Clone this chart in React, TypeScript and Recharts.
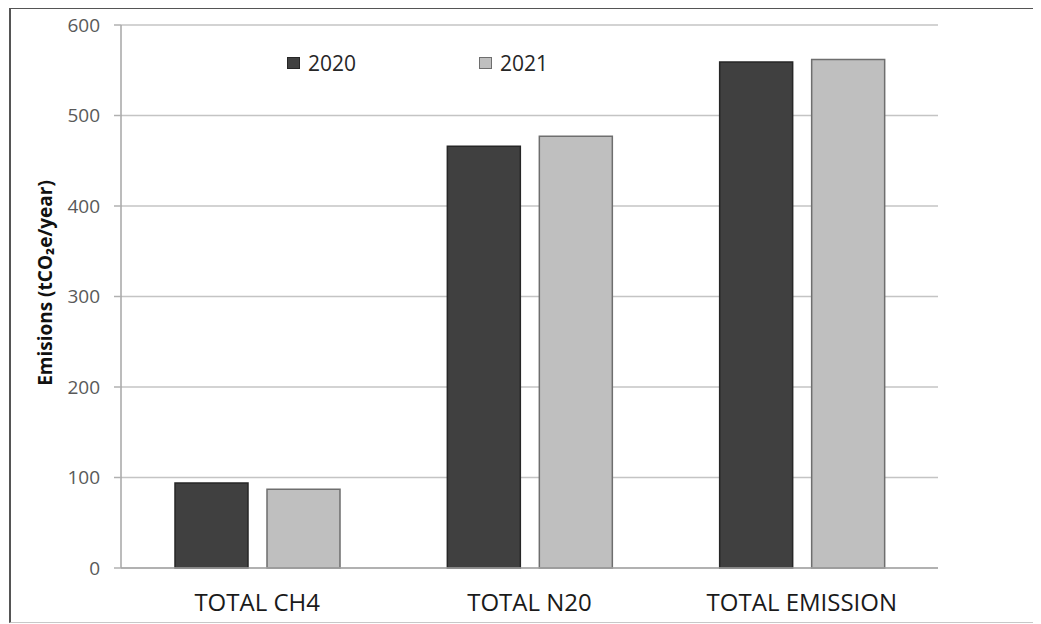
import { BarChart, Bar, XAxis, YAxis, CartesianGrid, Legend } from "recharts";

const categories = ["TOTAL CH4", "TOTAL N20", "TOTAL EMISSION"];
const values2020 = [94, 466, 559];
const values2021 = [87, 477, 562];
const yTicks = [0, 100, 200, 300, 400, 500, 600];

const data = categories.map((name, i) => ({
    name,
    y2020: values2020[i],
    y2021: values2021[i],
}));

const FONT = "'Open Sans', 'DejaVu Sans', sans-serif";

const series = [
    { key: "y2020", label: "2020", fill: "#404040", stroke: "#262626" },
    { key: "y2021", label: "2021", fill: "#bfbfbf", stroke: "#6e6e6e" },
];

function YLabel() {
    return (
        <text
            x={34}
            y={274}
            transform="rotate(-90 34 274)"
            textAnchor="middle"
            dominantBaseline="central"
            fontSize={19}
            fontWeight={700}
            fill="#111"
            fontFamily={FONT}
        >
            Emisions (tCO₂e/year)
        </text>
    );
}

function LegendBox() {
    return (
        <div style={{ display: "flex", fontFamily: FONT }}>
            {series.map((s) => (
                <div
                    key={s.key}
                    style={{ display: "flex", alignItems: "center", width: 192 }}
                >
                    <span
                        style={{
                            display: "inline-block",
                            width: 13,
                            height: 12,
                            background: s.fill,
                            border: `1px solid ${s.stroke}`,
                            boxSizing: "border-box",
                            marginRight: 8,
                        }}
                    />
                    <span style={{ fontSize: 21, color: "#262626" }}>{s.label}</span>
                </div>
            ))}
        </div>
    );
}

export default function App() {
    return (
        <div
            style={{
                marginLeft: 1,
                marginTop: -1,
                width: 1032,
                height: 613,
                borderLeft: "2px solid #555",
                borderTop: "2px solid #555",
                borderBottom: "1px solid #c8c8c8",
                background: "#fff",
                overflow: "hidden",
            }}
        >
            <style>{"body { overflow: hidden; }"}</style>
            <BarChart
                width={1030}
                height={612}
                data={data}
                margin={{ top: 16, right: 103, left: 0, bottom: 0 }}
                barCategoryGap={54}
                barGap={19}
                style={{ fontFamily: FONT }}
            >
                <CartesianGrid
                    vertical={false}
                    stroke="#c4c4c4"
                    strokeWidth={1.5}
                />
                <XAxis
                    dataKey="name"
                    height={53}
                    tickLine={false}
                    tickSize={0}
                    tickMargin={26}
                    axisLine={{ stroke: "#a6a6a6", strokeWidth: 1.5 }}
                    tick={{ fill: "#1a1a1a", fontSize: 24, fontFamily: FONT }}
                />
                <YAxis
                    width={110}
                    domain={[0, 600]}
                    ticks={yTicks}
                    interval={0}
                    tickSize={7}
                    tickMargin={14}
                    tickLine={{ stroke: "#b0b0b0", strokeWidth: 1.5 }}
                    axisLine={{ stroke: "#a6a6a6", strokeWidth: 1.5 }}
                    tick={{ fill: "#595959", fontSize: 19, fontFamily: FONT }}
                    label={<YLabel />}
                />
                {/* vertical + centered so the legend does not shrink the plot area */}
                <Legend
                    layout="vertical"
                    verticalAlign="middle"
                    align="center"
                    content={<LegendBox />}
                    wrapperStyle={{ top: 40, left: 276, width: 400 }}
                />
                {series.map((s) => (
                    <Bar
                        key={s.key}
                        dataKey={s.key}
                        name={s.label}
                        fill={s.fill}
                        stroke={s.stroke}
                        strokeWidth={1.5}
                        isAnimationActive={false}
                    />
                ))}
            </BarChart>
        </div>
    );
}
